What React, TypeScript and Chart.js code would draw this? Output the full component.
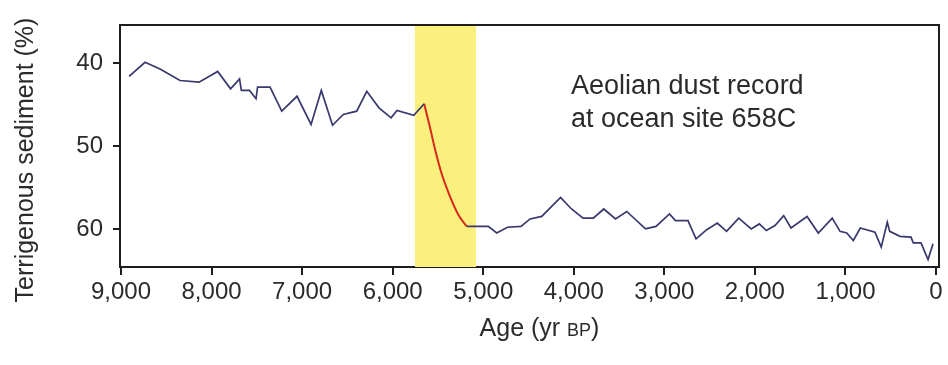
import React, { useEffect, useRef } from 'react';
import { Chart, registerables } from 'chart.js';

Chart.register(...registerables);

// Age (yr BP) of each sample
const ages = [
  8911, 8735, 8569, 8348, 8138, 7932, 7790, 7691, 7671, 7581,
  7509, 7492, 7354, 7225, 7056, 6901, 6788, 6664, 6545, 6397,
  6286, 6151, 6018, 5952, 5767, 5652, 5587, 5532, 5466, 5385,
  5275, 5182, 4944, 4851, 4732, 4583, 4483, 4354, 4146, 4025,
  3898, 3784, 3669, 3539, 3415, 3208, 3092, 2943, 2877, 2739,
  2650, 2532, 2415, 2313, 2178, 2041, 1951, 1874, 1778, 1682,
  1601, 1424, 1300, 1146, 1060, 986, 913, 836, 674, 605,
  538, 511, 398, 276, 251, 166, 88, 33,
];

// Terrigenous sediment (%)
const terrigenous = [
  41.6, 39.9, 40.7, 42.1, 42.3, 41.0, 43.1, 41.9, 43.3, 43.3,
  44.3, 42.9, 42.9, 45.8, 44.0, 47.4, 43.3, 47.5, 46.2, 45.8,
  43.4, 45.4, 46.6, 45.7, 46.3, 44.9, 47.8, 50.4, 53.1, 55.6,
  58.3, 59.7, 59.7, 60.5, 59.8, 59.7, 58.8, 58.5, 56.2, 57.6,
  58.7, 58.7, 57.6, 58.8, 57.9, 60.0, 59.7, 58.2, 59.0, 59.0,
  61.2, 60.1, 59.3, 60.3, 58.7, 60.0, 59.4, 60.2, 59.6, 58.4,
  59.9, 58.5, 60.5, 58.7, 60.3, 60.5, 61.4, 59.9, 60.4, 62.2,
  59.2, 60.3, 60.9, 61.0, 61.7, 61.7, 63.7, 61.8,
];

// first and last sample index of the abrupt transition (red)
const transitionRange = [25, 31];
// highlighted period (yr BP)
const bandRange = [5753, 5080];

const xTickValues = [9000, 8000, 7000, 6000, 5000, 4000, 3000, 2000, 1000, 0];
const yTickValues = [40, 50, 60];

const annotationLines = ['Aeolian dust record', 'at ocean site 658C'];
const yTitle = 'Terrigenous sediment (%)';
const xTitleParts = ['Age (yr ', 'BP', ')'];

const FONT = '"Liberation Sans", Arial, Helvetica, sans-serif';
const TEXT = '#2b2b2b';
const AXIS = '#1e1e1e';
const BLUE = '#38386e';
const RED = '#d8281c';
const YELLOW = '#fbef7e';

export default function App() {
  const ref = useRef<HTMLCanvasElement | null>(null);

  useEffect(() => {
    document.body.style.margin = '0';
    const canvas = ref.current;
    if (!canvas) return;

    const points = ages.map((a, i) => ({ x: a, y: terrigenous[i] }));
    const redPoints = points.slice(transitionRange[0], transitionRange[1] + 1);
    const inRed = (i0: number, i1: number) => i0 >= transitionRange[0] && i1 <= transitionRange[1];

    const decorPlugin = {
      id: 'decor',
      beforeDatasetsDraw(chart: any) {
        const { ctx, chartArea, scales } = chart;
        const xa = scales.x.getPixelForValue(bandRange[0]);
        const xb = scales.x.getPixelForValue(bandRange[1]);
        ctx.save();
        ctx.fillStyle = YELLOW;
        ctx.fillRect(xa, chartArea.top, xb - xa, chartArea.bottom - chartArea.top);
        ctx.restore();
      },
      afterDraw(chart: any) {
        const { ctx, chartArea } = chart;
        ctx.save();
        // frame top and right
        ctx.strokeStyle = AXIS;
        ctx.lineWidth = 2;
        ctx.beginPath();
        ctx.moveTo(chartArea.left, chartArea.top);
        ctx.lineTo(chartArea.right, chartArea.top);
        ctx.lineTo(chartArea.right, chartArea.bottom);
        ctx.stroke();

        // annotation
        ctx.fillStyle = TEXT;
        ctx.font = `27px ${FONT}`;
        ctx.textAlign = 'left';
        ctx.textBaseline = 'alphabetic';
        ctx.fillText(annotationLines[0], 571, 94);
        ctx.fillText(annotationLines[1], 571, 127);

        // y title
        ctx.save();
        ctx.translate(26, 160);
        ctx.rotate(-Math.PI / 2);
        ctx.textAlign = 'center';
        ctx.textBaseline = 'middle';
        ctx.font = `25px ${FONT}`;
        ctx.fillText(yTitle, 0, 0);
        ctx.restore();

        // x title with small caps "BP"
        const big = `25px ${FONT}`;
        const small = `18px ${FONT}`;
        ctx.font = big;
        const w0 = ctx.measureText(xTitleParts[0]).width;
        const w2 = ctx.measureText(xTitleParts[2]).width;
        ctx.font = small;
        const w1 = ctx.measureText(xTitleParts[1]).width;
        const total = w0 + w1 + w2;
        let x = (chartArea.left + chartArea.right) / 2 + 10 - total / 2;
        const y = 336;
        ctx.textAlign = 'left';
        ctx.textBaseline = 'alphabetic';
        ctx.font = big;
        ctx.fillText(xTitleParts[0], x, y);
        x += w0;
        ctx.font = small;
        ctx.fillText(xTitleParts[1], x, y);
        x += w1;
        ctx.font = big;
        ctx.fillText(xTitleParts[2], x, y);
        ctx.restore();
      },
    };

    const chart = new Chart(canvas, {
      type: 'scatter',
      data: {
        datasets: [
          {
            data: points,
            showLine: true,
            borderColor: BLUE,
            borderWidth: 1.7,
            pointRadius: 0,
            tension: 0,
            segment: {
              borderColor: (c: any) => (inRed(c.p0DataIndex, c.p1DataIndex) ? 'rgba(0,0,0,0)' : BLUE),
            },
          },
          {
            data: redPoints,
            showLine: true,
            borderColor: RED,
            borderWidth: 2,
            pointRadius: 0,
            cubicInterpolationMode: 'monotone',
          },
        ],
      },
      options: {
        responsive: false,
        animation: false,
        events: [],
        layout: { padding: { top: 25, right: 9, left: 0, bottom: 0 } },
        plugins: { legend: { display: false }, tooltip: { enabled: false } },
        scales: {
          x: {
            type: 'linear',
            reverse: true,
            min: -33,
            max: 9011,
            afterFit: (s: any) => { s.height = 98; },
            afterBuildTicks: (s: any) => { s.ticks = xTickValues.map((v) => ({ value: v })); },
            grid: { drawOnChartArea: false, drawTicks: true, tickLength: 8, color: AXIS, lineWidth: 2 },
            border: { display: true, color: AXIS, width: 2 },
            ticks: {
              color: TEXT,
              font: { family: FONT, size: 24 },
              padding: 3,
              maxRotation: 0,
              autoSkip: false,
              callback: (v: any) => Number(v).toLocaleString('en-US'),
            },
          },
          y: {
            type: 'linear',
            reverse: true,
            min: 35.4,
            max: 64.6,
            afterFit: (s: any) => { s.width = 120; },
            afterBuildTicks: (s: any) => { s.ticks = yTickValues.map((v) => ({ value: v })); },
            grid: { drawOnChartArea: false, drawTicks: true, tickLength: 7, color: AXIS, lineWidth: 2 },
            border: { display: true, color: AXIS, width: 2 },
            ticks: {
              color: TEXT,
              font: { family: FONT, size: 24 },
              padding: 10,
              autoSkip: false,
            },
          },
        },
      },
      plugins: [decorPlugin],
    });

    return () => chart.destroy();
  }, []);

  return (
    <div style={{ position: 'relative', width: 948, height: 365, background: '#fff' }}>
      <canvas ref={ref} width={948} height={365} style={{ display: 'block', width: 948, height: 365 }} />
    </div>
  );
}
